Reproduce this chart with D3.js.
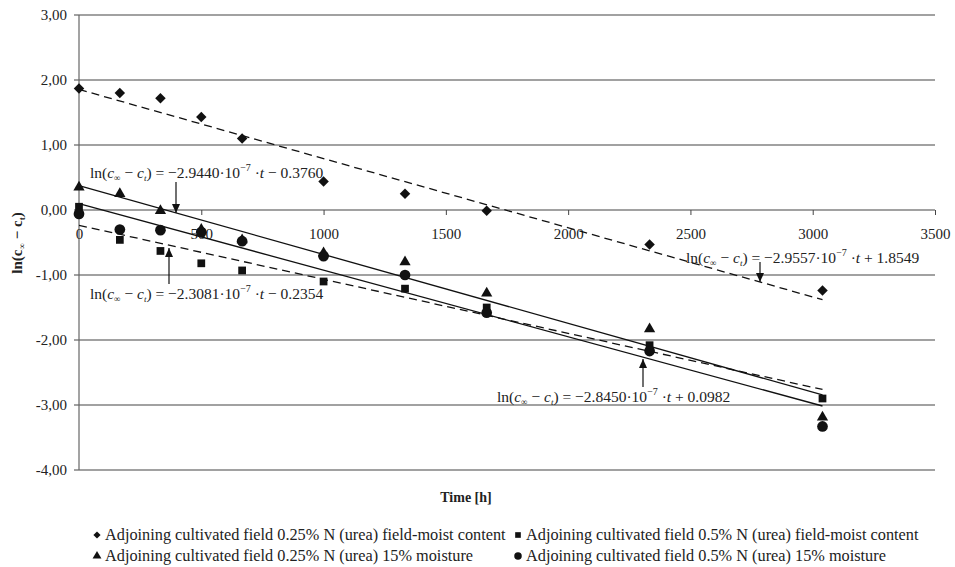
<!DOCTYPE html>
<html>
<head>
<meta charset="utf-8">
<script src="https://cdn.jsdelivr.net/npm/d3@7"></script>
<style>
  body { margin: 0; background: #fff; }
  text { font-family: "Liberation Serif", "Times New Roman", serif; fill: #222; }
</style>
</head>
<body>
<script>
// sampling times [h]
var times = [0, 167, 333, 500, 667, 1000, 1333, 1667, 2333, 3040];

// ln(c_inf - c_t) per series
var diamondVals  = [1.87, 1.80, 1.72, 1.43, 1.10, 0.44, 0.25, -0.01, -0.53, -1.24];
var squareVals   = [0.05, -0.46, -0.63, -0.82, -0.93, -1.10, -1.21, -1.50, -2.08, -2.90];
var triangleVals = [0.35, 0.25, -0.01, -0.30, -0.46, -0.66, -0.80, -1.28, -1.83, -3.19];
var circleVals   = [-0.06, -0.30, -0.31, -0.34, -0.48, -0.71, -1.00, -1.58, -2.17, -3.33];

// linear fits: slope (per second, x10^-7) and intercept
var fitSlopes     = [-2.9557, -2.3081, -2.9440, -2.8450];
var fitIntercepts = [1.8549, -0.2354, 0.3760, 0.0982];
var fitLabels = [
  ["\u22122.9557", "+", "1.8549"],
  ["\u22122.3081", "\u2212", "0.2354"],
  ["\u22122.9440", "\u2212", "0.3760"],
  ["\u22122.8450", "+", "0.0982"]
];

var legendLabels = [
  "Adjoining cultivated field 0.25% N (urea) field-moist content",
  "Adjoining cultivated field 0.5% N (urea) field-moist content",
  "Adjoining cultivated field 0.25% N (urea) 15% moisture",
  "Adjoining cultivated field 0.5% N (urea) 15% moisture"
];

var yTicks = [3, 2, 1, 0, -1, -2, -3, -4];
var xTicks = [0, 500, 1000, 1500, 2000, 2500, 3000, 3500];

var width = 955, height = 567;
var svg = d3.select("body").append("svg")
            .attr("width", width)
            .attr("height", height);

var x = d3.scaleLinear().domain([0, 3500]).range([79, 935]);
var y = d3.scaleLinear().domain([-4, 3]).range([470, 15]);

// diamond as a square turned 45 degrees (d3's diamond is too narrow)
var squareDiamond = {
  draw: function(ctx, size) {
    var r = Math.sqrt(size / 2);
    ctx.moveTo(0, -r); ctx.lineTo(r, 0); ctx.lineTo(0, r); ctx.lineTo(-r, 0); ctx.closePath();
  }
};

// gridlines
svg.append("g")
   .selectAll("line")
   .data(yTicks)
   .enter()
     .append("line")
     .attr("x1", 74)
     .attr("x2", 935)
     .attr("y1", function(d) { return y(d); })
     .attr("y2", function(d) { return y(d); })
     .attr("stroke", "#444")
     .attr("stroke-width", 1.1);

// y axis line
svg.append("line")
   .attr("x1", 79).attr("x2", 79)
   .attr("y1", y(3)).attr("y2", y(-4))
   .attr("stroke", "#666").attr("stroke-width", 1.2);

// y tick labels
svg.append("g")
   .selectAll("text")
   .data(yTicks)
   .enter()
     .append("text")
     .attr("x", 67)
     .attr("y", function(d) { return y(d); })
     .attr("dy", "0.35em")
     .attr("text-anchor", "end")
     .style("font-size", "15px")
     .text(function(d) { return d.toFixed(2).replace(".", ","); });

// x axis at y = 0
var xAxis = svg.append("g")
   .attr("transform", "translate(0," + y(0) + ")")
   .call(d3.axisBottom(x).tickValues(xTicks).tickSize(5).tickPadding(13)
           .tickFormat(d3.format("d")));
xAxis.select(".domain").remove();
xAxis.selectAll("line").attr("stroke", "#444");
xAxis.selectAll("text")
     .style("font-family", "Liberation Serif")
     .style("font-size", "15px")
     .attr("fill", "#222");

// trend lines (t in hours, slope per second)
var tMax = d3.max(times);
var dashes = ["8,5", "8,5", null, null];
fitSlopes.forEach(function(s, i) {
  var f = function(t) { return fitIntercepts[i] + s * 1e-7 * 3600 * t; };
  svg.append("line")
     .attr("x1", x(0)).attr("y1", y(f(0)))
     .attr("x2", x(tMax)).attr("y2", y(f(tMax)))
     .attr("stroke", "#111")
     .attr("stroke-width", 1.3)
     .attr("stroke-dasharray", dashes[i]);
});

// markers
var series = [
  { vals: diamondVals,  sym: squareDiamond,     size: 55 },
  { vals: squareVals,   sym: d3.symbolSquare,   size: 60 },
  { vals: triangleVals, sym: d3.symbolTriangle, size: 55 },
  { vals: circleVals,   sym: d3.symbolCircle,   size: 90 }
];
series.forEach(function(s) {
  svg.append("g")
     .selectAll("path")
     .data(s.vals)
     .enter()
       .append("path")
       .attr("d", d3.symbol().type(s.sym).size(s.size))
       .attr("transform", function(d, i) {
         return "translate(" + x(times[i]) + "," + y(d) + ")";
       })
       .attr("fill", "#111");
});

// equation annotations
function equation(px, py, lab) {
  var t = svg.append("text").attr("x", px).attr("y", py).style("font-size", "15.5px");
  t.append("tspan").text("ln(");
  t.append("tspan").style("font-style", "italic").text("c");
  t.append("tspan").attr("dy", 3).style("font-size", "9px").text("\u221e");
  t.append("tspan").attr("dy", -3).text(" \u2212 ");
  t.append("tspan").style("font-style", "italic").text("c");
  t.append("tspan").attr("dy", 3).style("font-size", "9px").style("font-style", "italic").text("t");
  t.append("tspan").attr("dy", -3).text(") = " + lab[0] + "\u00b710");
  t.append("tspan").attr("dy", -7).style("font-size", "10px").text("\u22127");
  t.append("tspan").attr("dy", 7).text(" \u00b7");
  t.append("tspan").style("font-style", "italic").text("t");
  t.append("tspan").text(" " + lab[1] + " " + lab[2]);
}
function arrow(px, y1, y2) {
  svg.append("line").attr("x1", px).attr("x2", px).attr("y1", y1).attr("y2", y2)
     .attr("stroke", "#111").attr("stroke-width", 1.2);
  var dir = y2 > y1 ? 1 : -1;
  svg.append("path")
     .attr("d", "M" + (px - 4) + "," + (y2 - dir * 9) + "L" + (px + 4) + "," + (y2 - dir * 9) + "L" + px + "," + y2 + "Z")
     .attr("fill", "#111");
}
equation(686, 263, fitLabels[0]);
arrow(760, 262, 282);
equation(90, 299, fitLabels[1]);
arrow(169, 284, 248);
equation(90, 178, fitLabels[2]);
arrow(176, 182, 213);
equation(497, 402, fitLabels[3]);
arrow(643, 387, 359);

// axis titles
var yt = svg.append("text")
   .attr("transform", "translate(22," + 243 + ") rotate(-90)")
   .attr("text-anchor", "middle")
   .style("font-size", "15px")
   .style("font-weight", "bold");
yt.append("tspan").text("ln(c");
yt.append("tspan").attr("dy", 3).style("font-size", "9px").text("\u221e");
yt.append("tspan").attr("dy", -3).text(" \u2212 c");
yt.append("tspan").attr("dy", 3).style("font-size", "9px").text("t");
yt.append("tspan").attr("dy", -3).text(")");

svg.append("text")
   .attr("x", 466).attr("y", 502)
   .attr("text-anchor", "middle")
   .style("font-size", "14px")
   .style("font-weight", "bold")
   .text("Time [h]");

// legend
var legPos = [[97, 540], [518, 540], [97, 561], [518, 561]];
var legSizes = [26, 32, 34, 44];
series.forEach(function(s, i) {
  svg.append("path")
     .attr("d", d3.symbol().type(s.sym).size(legSizes[i]))
     .attr("transform", "translate(" + legPos[i][0] + "," + (legPos[i][1] - 5) + ")")
     .attr("fill", "#111");
  svg.append("text")
     .attr("x", legPos[i][0] + 8)
     .attr("y", legPos[i][1])
     .style("font-size", "16.3px")
     .text(legendLabels[i]);
});
</script>
</body>
</html>
